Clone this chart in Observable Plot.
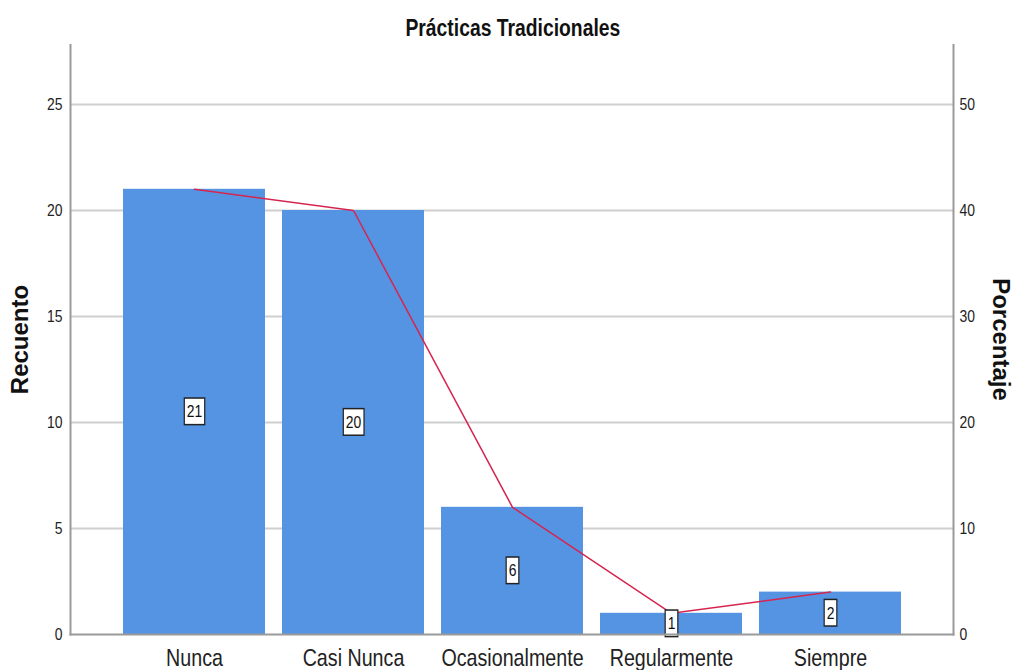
<!DOCTYPE html>
<html>
<head>
<meta charset="utf-8">
<script src="https://cdn.jsdelivr.net/npm/d3@7"></script>
<script src="https://cdn.jsdelivr.net/npm/@observablehq/plot@0.6"></script>
<style>
  html, body { margin: 0; padding: 0; background: #fff; overflow: hidden; }
  #title {
    height: 44px; width: 1026px; text-align: center;
    font-family: "Liberation Sans", Arial, sans-serif;
    font-weight: bold; font-size: 23px; line-height: 56px; color: #111;
  }
  #title span { display: inline-block; transform: scaleX(0.84); }
  svg { display: block; }
</style>
</head>
<body>
<div id="title"><span>Prácticas Tradicionales</span></div>
<div id="chart"></div>
<script>
const categories = ["Nunca", "Casi Nunca", "Ocasionalmente", "Regularmente", "Siempre"];
const counts = [21, 20, 6, 1, 2];
const percents = [42, 40, 12, 2, 4];
const total = 50;
const countTicks = [0, 5, 10, 15, 20, 25];
const percentTicks = [0, 10, 20, 30, 40, 50];

const rows = categories.map((c, i) => ({category: c, count: counts[i], percent: percents[i]}));
const pctToCount = p => p * total / 100;

const font = '"Liberation Sans", Arial, sans-serif';
const axisColor = "#9a9a9a";

const chart = Plot.plot({
  width: 1014,
  height: 630,
  marginTop: 0,
  marginBottom: 40,
  marginLeft: 70,
  marginRight: 61,
  style: {fontFamily: font, fontSize: "17px", color: "#222", background: "#fff"},
  x: {domain: categories, paddingInner: 0.107, paddingOuter: 0.33, label: null},
  y: {domain: [0, 27.83], label: null},
  marks: [
    Plot.gridY(countTicks.slice(1), {stroke: "#cfcfcf", strokeOpacity: 1, strokeWidth: 2}),
    Plot.barY(rows, {x: "category", y: "count", fill: "#5594e3"}),
    Plot.line(rows, {x: "category", y: d => pctToCount(d.percent), stroke: "#d6254f", strokeWidth: 1.5}),
    Plot.text(rows, {x: "category", y: d => d.count / 2, text: d => String(d.count),
      fontSize: 17, fill: "#111"}),
    Plot.frame({anchor: "left", stroke: axisColor, strokeWidth: 2}),
    Plot.frame({anchor: "right", stroke: axisColor, strokeWidth: 2}),
    Plot.frame({anchor: "bottom", stroke: axisColor, strokeWidth: 2}),
    Plot.axisY({ticks: countTicks, tickSize: 0, tickPadding: 8, label: null, fontSize: 17}),
    Plot.axisY({anchor: "right", ticks: percentTicks.map(pctToCount), tickFormat: d => String(Math.round(d * 100 / total)),
      tickSize: 0, tickPadding: 6, label: null, fontSize: 17}),
    Plot.axisX({tickSize: 0, tickPadding: 14, label: null, fontSize: 24}),
    Plot.text(["Recuento"], {frameAnchor: "left", dx: -50, rotate: -90, textAnchor: "middle", fontSize: 24,
      fontWeight: "bold", fill: "#111"}),
    Plot.text(["Porcentaje"], {frameAnchor: "right", dx: 47, rotate: 90, textAnchor: "middle", fontSize: 24,
      fontWeight: "bold", fill: "#111"})
  ]
});
document.getElementById("chart").appendChild(chart);

const svg = d3.select(chart);
// condense the tick labels and value labels (narrow font look), leave rotated titles alone
svg.selectAll("text").each(function() {
  const t = this.getAttribute("transform") || "";
  if (/rotate/.test(t)) return;
  this.setAttribute("transform", (t ? t + " " : "") + "scale(0.82,1)");
});

// white boxes with dark border behind the count labels (first text mark group)
const labelGroup = chart.querySelector('g[aria-label="text"]');
d3.select(labelGroup).selectAll("text").each(function() {
  const b = this.getBBox();
  const rect = document.createElementNS("http://www.w3.org/2000/svg", "rect");
  rect.setAttribute("x", b.x - 3);
  rect.setAttribute("y", b.y - 4);
  rect.setAttribute("width", b.width + 6);
  rect.setAttribute("height", b.height + 8);
  rect.setAttribute("fill", "#fff");
  rect.setAttribute("stroke", "#222");
  rect.setAttribute("stroke-width", 1.5);
  const t = this.getAttribute("transform");
  if (t) rect.setAttribute("transform", t);
  this.parentNode.insertBefore(rect, this);
});
</script>
</body>
</html>
